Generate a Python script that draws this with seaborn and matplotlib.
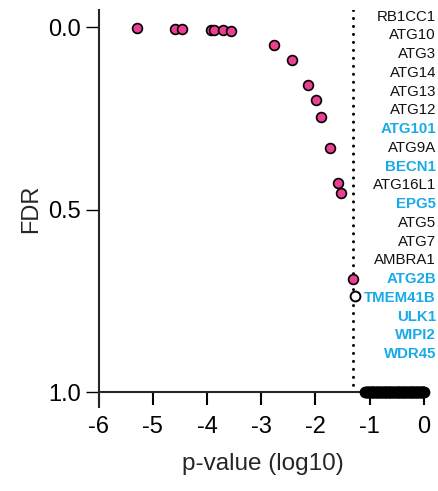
import numpy as np
import pandas as pd
import matplotlib
matplotlib.use("Agg")
import matplotlib.pyplot as plt
import seaborn as sns

# ---- data ----
hit_logp = [-5.30, -4.60, -4.46, -3.93, -3.87, -3.71, -3.55, -2.76, -2.43,
            -2.14, -1.99, -1.89, -1.73, -1.59, -1.535, -1.30]
hit_fdr = [0.003, 0.004, 0.004, 0.008, 0.008, 0.008, 0.011, 0.048, 0.090,
           0.157, 0.200, 0.246, 0.330, 0.426, 0.455, 0.690]

open_logp = [-1.26]
open_fdr = [0.735]

band_logp = [0.00, -0.01, -0.02, -0.04, -0.05, -0.07, -0.09, -0.10, -0.12, -0.14,
             -0.16, -0.17, -0.19, -0.21, -0.22, -0.24, -0.26, -0.28, -0.29, -0.31,
             -0.33, -0.34, -0.36, -0.38, -0.40, -0.41, -0.43, -0.45, -0.46, -0.48,
             -0.50, -0.52, -0.53, -0.55, -0.57, -0.58, -0.60, -0.62, -0.64, -0.65,
             -0.67, -0.69, -0.70, -0.72, -0.74, -0.76, -0.77, -0.79, -0.81, -0.82,
             -0.84, -0.86, -0.88, -0.89, -0.91, -0.93, -0.94, -0.96, -0.98, -0.99,
             -1.01, -1.03, -1.05, -1.06, -1.08]
band_fdr = [1.0] * 65

genes = ["RB1CC1", "ATG10", "ATG3", "ATG14", "ATG13", "ATG12", "ATG101",
         "ATG9A", "BECN1", "ATG16L1", "EPG5", "ATG5", "ATG7", "AMBRA1",
         "ATG2B", "TMEM41B", "ULK1", "WIPI2", "WDR45"]
highlight = [False, False, False, False, False, False, True,
             False, True, False, True, False, False, False,
             True, True, True, True, True]

xticks = [-6, -5, -4, -3, -2, -1, 0]
xticklabels = ["-6", "-5", "-4", "-3", "-2", "-1", "0"]
yticks = [0.0, 0.5, 1.0]
yticklabels = ["0.0", "0.5", "1.0"]
threshold = np.log10(0.05)

hits = pd.DataFrame({"logp": hit_logp, "fdr": hit_fdr})
opened = pd.DataFrame({"logp": open_logp, "fdr": open_fdr})
band = pd.DataFrame({"logp": band_logp, "fdr": band_fdr})

# ---- style ----
sns.set_style("ticks")
plt.rcParams["font.family"] = ["Liberation Sans", "DejaVu Sans"]

PINK = "#EC3F93"
BLUE = "#19AAE8"

W, H = 438, 491
fig = plt.figure(figsize=(W / 100, H / 100), dpi=100)
ax = fig.add_axes([98.7 / W, 1 - 407 / H, (427 - 98.7) / W, (407 - 10) / H])

ax.set_xlim(-6, 0.06)
ax.set_ylim(1.04, -0.047)

ax.vlines(threshold, -0.047, 1.0, colors="black", linewidth=2.2,
          linestyles=[(0, (0.01, 2.6))], capstyle="round", zorder=1)

sns.scatterplot(data=band, x="logp", y="fdr", ax=ax, color="black",
                edgecolor="black", linewidth=1.4, s=50, zorder=3,
                legend=False, clip_on=False)
sns.scatterplot(data=opened, x="logp", y="fdr", ax=ax, color="white",
                edgecolor="black", linewidth=1.4, s=50, zorder=3,
                legend=False, clip_on=False)
sns.scatterplot(data=hits, x="logp", y="fdr", ax=ax, color=PINK,
                edgecolor="black", linewidth=1.2, s=50, zorder=4,
                legend=False, clip_on=False)

for s in ["top", "right"]:
    ax.spines[s].set_visible(False)
ax.spines["bottom"].set_position(("data", 1.0))
ax.spines["left"].set_linewidth(1.5)
ax.spines["bottom"].set_linewidth(1.5)

ax.set_xticks(xticks)
ax.set_xticklabels(xticklabels)
ax.set_yticks(yticks)
ax.set_yticklabels(yticklabels)
ax.tick_params(axis="both", direction="out", length=9.5,
               labelsize=17, color="black", labelcolor="black")
ax.tick_params(axis="x", pad=7.5, width=1.5)
ax.tick_params(axis="y", pad=3, width=1.0)

ax.set_xlabel("p-value (log10)", fontsize=17.5, labelpad=11)
ax.set_ylabel("FDR", fontsize=17, labelpad=5)

# gene list on the right
y0, dy = 16.7, 18.74
for i, (g, hl) in enumerate(zip(genes, highlight)):
    fig.text(436 / W, 1 - (y0 + i * dy) / H, g, ha="right", va="center",
             fontsize=10.8, color=BLUE if hl else "#111111",
             fontweight="bold" if hl else "normal")

fig.savefig("out.png", dpi=100)
